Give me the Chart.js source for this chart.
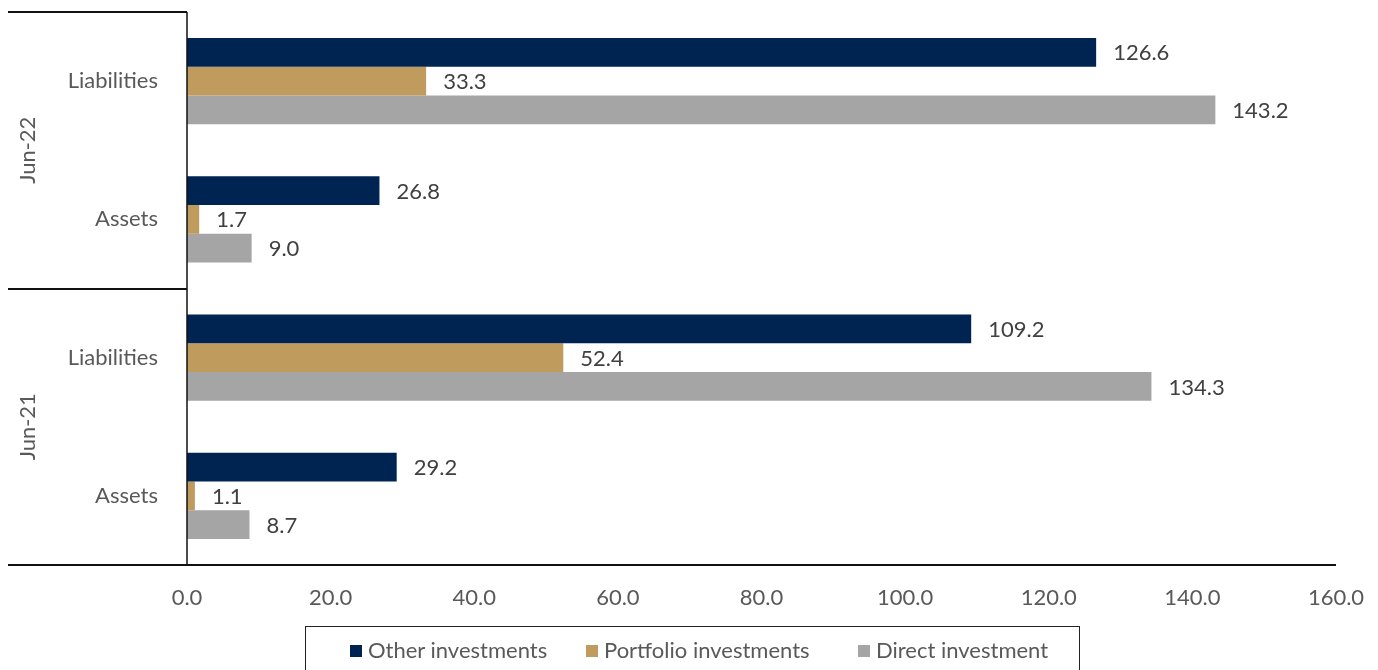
<!DOCTYPE html>
<html>
<head>
<meta charset="utf-8">
<script src="https://cdn.jsdelivr.net/npm/chart.js@4/dist/chart.umd.min.js"></script>
<style>
  html, body { margin: 0; padding: 0; overflow: hidden; background: #fff; }
  #wrap { position: relative; width: 1378px; height: 670px; }
  #legend {
    position: absolute; left: 305px; top: 626px; width: 775px; height: 60px;
    border: 1.5px solid #222; box-sizing: border-box;
    font-family: Lato, "Open Sans", sans-serif; font-size: 22px; color: #595959;
  }
  .item { position: absolute; top: 11px; line-height: 24px; white-space: nowrap; }
  .sw { display: inline-block; width: 12px; height: 12px; margin-right: 6px; vertical-align: 1px; }
</style>
</head>
<body>
<div id="wrap">
  <canvas id="c" width="1378" height="670"></canvas>
  <div id="legend"></div>
</div>
<script>
const categories = ['Liabilities', 'Assets', 'Liabilities', 'Assets'];
const groups = ['Jun-22', 'Jun-22', 'Jun-21', 'Jun-21'];
const seriesNames = ['Other investments', 'Portfolio investments', 'Direct investment'];
const otherInvestments = [126.6, 26.8, 109.2, 29.2];
const portfolioInvestments = [33.3, 1.7, 52.4, 1.1];
const directInvestment = [143.2, 9.0, 134.3, 8.7];
const xTicks = [0, 20, 40, 60, 80, 100, 120, 140, 160];
const colors = ['#002451', '#C09B5E', '#A5A5A5'];

const FONT = 'Lato, "Open Sans", sans-serif';
const FS = 22;

const legendEl = document.getElementById('legend');
const legendX = [44, 280, 552];
seriesNames.forEach((n, i) => {
  const d = document.createElement('div');
  d.className = 'item';
  d.style.left = legendX[i] + 'px';
  d.innerHTML = '<span class="sw" style="background:' + colors[i] + '"></span>' + n;
  legendEl.appendChild(d);
});

const decor = {
  id: 'decor',
  afterDraw(chart) {
    const ctx = chart.ctx;
    const a = chart.chartArea;
    const ys = chart.scales.y;
    ctx.save();
    ctx.font = FS + 'px ' + FONT;
    ctx.fillStyle = '#404040';
    ctx.textAlign = 'left';
    ctx.textBaseline = 'middle';
    chart.data.datasets.forEach((ds, di) => {
      const meta = chart.getDatasetMeta(di);
      meta.data.forEach((el, i) => {
        ctx.fillText(ds.data[i].toFixed(1), el.x + 17, el.y + 1);
      });
    });
    ctx.strokeStyle = '#111';
    ctx.lineWidth = 2;
    const left = 8;
    const step = (a.bottom - a.top) / categories.length;
    const bounds = [a.top];
    for (let i = 1; i < groups.length; i++) {
      if (groups[i] !== groups[i - 1]) bounds.push(a.top + step * i);
    }
    bounds.forEach(y => {
      ctx.beginPath(); ctx.moveTo(left, Math.round(y)); ctx.lineTo(a.left, Math.round(y)); ctx.stroke();
    });
    ctx.beginPath(); ctx.moveTo(left, a.bottom); ctx.lineTo(a.right, a.bottom); ctx.stroke();
    ctx.lineWidth = 1.5;
    ctx.beginPath(); ctx.moveTo(a.left, a.top); ctx.lineTo(a.left, a.bottom); ctx.stroke();
    ctx.font = FS + 'px ' + FONT;
    ctx.fillStyle = '#595959';
    ctx.textAlign = 'center';
    ctx.textBaseline = 'middle';
    let start = 0;
    for (let i = 1; i <= groups.length; i++) {
      if (i === groups.length || groups[i] !== groups[start]) {
        const y0 = ys.getPixelForValue(start) - step / 2;
        const y1 = ys.getPixelForValue(i - 1) + step / 2;
        ctx.save();
        ctx.translate(28, (y0 + y1) / 2);
        ctx.rotate(-Math.PI / 2);
        ctx.fillText(groups[start], 0, 0);
        ctx.restore();
        start = i;
      }
    }
    ctx.restore();
  }
};

new Chart(document.getElementById('c'), {
  type: 'bar',
  data: {
    labels: categories,
    datasets: [
      { label: seriesNames[0], data: otherInvestments, backgroundColor: colors[0] },
      { label: seriesNames[1], data: portfolioInvestments, backgroundColor: colors[1] },
      { label: seriesNames[2], data: directInvestment, backgroundColor: colors[2] }
    ]
  },
  options: {
    indexAxis: 'y',
    responsive: false,
    animation: false,
    layout: { padding: { top: 12, right: 42, left: 0, bottom: 0 } },
    datasets: { bar: { barPercentage: 1, categoryPercentage: 0.625 } },
    plugins: { legend: { display: false }, tooltip: { enabled: false } },
    scales: {
      x: {
        min: xTicks[0], max: xTicks[xTicks.length - 1],
        afterBuildTicks(s) { s.ticks = xTicks.map(v => ({ value: v })); },
        grid: { display: false, drawTicks: false },
        border: { display: false },
        ticks: {
          font: { family: FONT, size: FS }, color: '#595959', padding: 20,
          maxRotation: 0, autoSkip: false,
          callback: v => Number(v).toFixed(1)
        },
        afterFit(s) { s.height = 105; s.paddingLeft = 0; s.paddingRight = 0; }
      },
      y: {
        grid: { display: false, drawTicks: false },
        border: { display: false },
        ticks: { font: { family: FONT, size: FS }, color: '#595959', padding: 29 },
        afterFit(s) { s.width = 187; s.paddingTop = 0; s.paddingBottom = 0; }
      }
    }
  },
  plugins: [decor]
});
</script>
</body>
</html>
